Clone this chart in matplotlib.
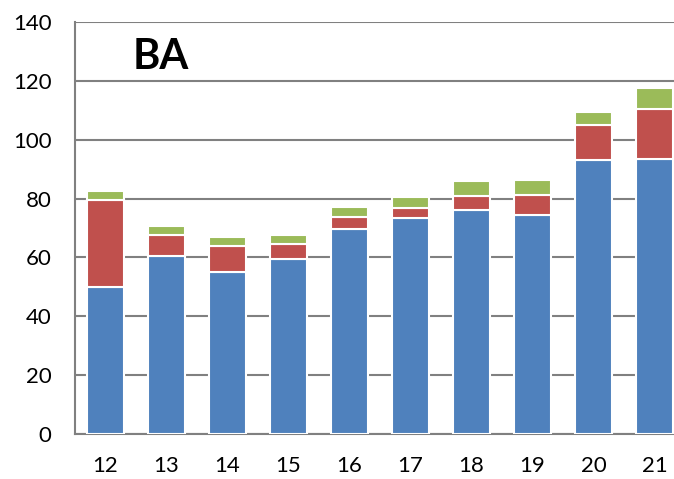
import matplotlib
matplotlib.use("Agg")
import matplotlib.pyplot as plt
import numpy as np

categories = ["12", "13", "14", "15", "16", "17", "18", "19", "20", "21"]
blue_vals = [50, 60.5, 55, 59.5, 69.5, 73.3, 76, 74.4, 93, 93.5]
red_vals = [29.5, 7, 9, 5, 4.3, 3.4, 5, 6.7, 12, 17]
green_vals = [3, 3.2, 3, 3.2, 3.4, 3.9, 4.9, 5.2, 4.5, 7]
yticks = [0, 20, 40, 60, 80, 100, 120, 140]

plt.rcParams['font.family'] = ['Lato', 'DejaVu Sans']

fig = plt.figure(figsize=(6.74, 4.79), dpi=100)
ax = fig.add_axes([75/674, 1-434/479, 610/674, 412/479])

x = np.arange(len(categories))
blue = np.array(blue_vals)
red = np.array(red_vals)
green = np.array(green_vals)

kw = dict(width=0.6, edgecolor='white', linewidth=1.5, zorder=3)
ax.bar(x, blue, color='#4F81BD', **kw)
ax.bar(x, red, bottom=blue, color='#C0504D', **kw)
ax.bar(x, green, bottom=blue + red, color='#9BBB59', **kw)

ax.set_xlim(-0.5, len(categories) - 0.5)
ax.set_ylim(0, 140)
ax.set_yticks(yticks)
ax.set_xticks(x)
ax.set_xticklabels(categories)
ax.yaxis.grid(True, color='#808080', linewidth=1.5, zorder=0)
ax.set_axisbelow(True)
for s in ['top', 'right']:
    ax.spines[s].set_visible(False)
for s in ['left', 'bottom']:
    ax.spines[s].set_color('#808080')
    ax.spines[s].set_linewidth(1.5)
ax.tick_params(axis='y', length=0, pad=17, labelsize=16)
ax.tick_params(axis='x', length=0, pad=16, labelsize=16)

ax.text(0.095, 0.915, "BA", transform=ax.transAxes, fontsize=30,
        fontweight='bold', ha='left', va='center')

fig.savefig("out.png", dpi=100)
